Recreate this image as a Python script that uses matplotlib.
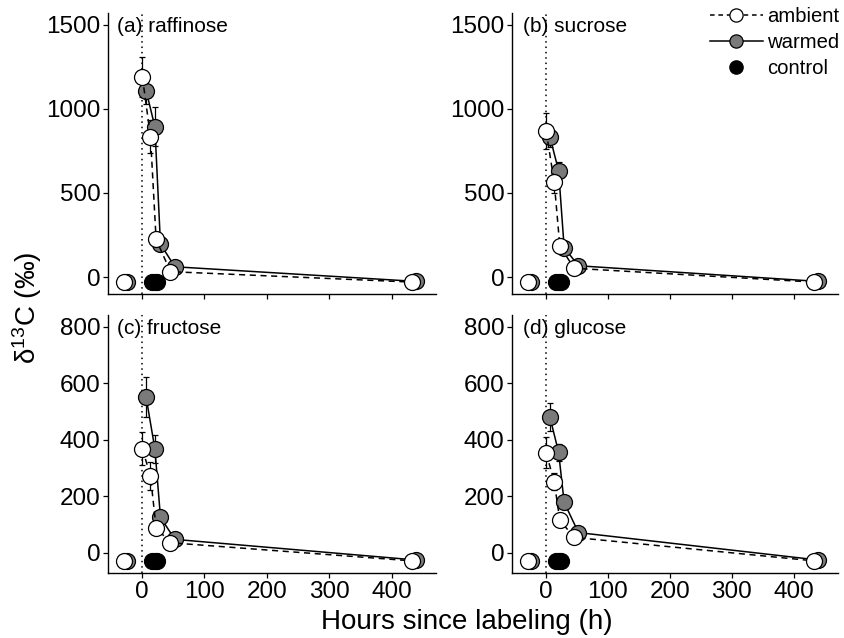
import matplotlib
matplotlib.use("Agg")
import matplotlib.pyplot as plt
from matplotlib.lines import Line2D

plt.rcParams['font.family'] = ['Liberation Sans', 'DejaVu Sans']
plt.rcParams['mathtext.fontset'] = 'custom'
plt.rcParams['mathtext.rm'] = 'Liberation Sans'
plt.rcParams['mathtext.default'] = 'regular'

# ---------------- data ----------------
panels = ["(a) raffinose", "(b) sucrose", "(c) fructose", "(d) glucose"]

amb_time = [1, 14, 23, 46, 432]
warm_time = [7, 21, 30, 53, 439]
pre_amb_time = -28
pre_warm_time = -23
control_time = [17, 21, 25]

amb_vals = {
    "(a) raffinose": [1192, 835, 224, 32, -30],
    "(b) sucrose":   [869, 564, 185, 52, -30],
    "(c) fructose":  [369, 272, 89, 36, -28],
    "(d) glucose":   [354, 252, 116, 55, -28],
}
warm_vals = {
    "(a) raffinose": [1109, 895, 196, 61, -26],
    "(b) sucrose":   [835, 633, 175, 67, -26],
    "(c) fructose":  [551, 369, 126, 48, -25],
    "(d) glucose":   [481, 357, 179, 72, -25],
}
amb_se = {
    "(a) raffinose": [119, 98, 30, 15, 5],
    "(b) sucrose":   [105, 64, 30, 10, 5],
    "(c) fructose":  [58, 50, 20, 8, 3],
    "(d) glucose":   [55, 30, 25, 8, 3],
}
warm_se = {
    "(a) raffinose": [80, 118, 20, 10, 5],
    "(b) sucrose":   [60, 53, 20, 10, 5],
    "(c) fructose":  [70, 50, 20, 8, 3],
    "(d) glucose":   [50, 30, 20, 8, 3],
}
pre_amb = {"(a) raffinose": -28, "(b) sucrose": -28, "(c) fructose": -28, "(d) glucose": -28}
pre_warm = {"(a) raffinose": -28, "(b) sucrose": -28, "(c) fructose": -28, "(d) glucose": -28}
control_vals = {
    "(a) raffinose": [-28, -28, -28],
    "(b) sucrose":   [-28, -28, -28],
    "(c) fructose":  [-28, -28, -28],
    "(d) glucose":   [-28, -28, -28],
}

x_ticks = [0, 100, 200, 300, 400]
y_ticks_top = [0, 500, 1000, 1500]
y_ticks_bottom = [0, 200, 400, 600, 800]

# ---------------- layout ----------------
W, H = 844, 638
fig = plt.figure(figsize=(W / 100, H / 100), dpi=100)
pos = {
    "(a) raffinose": [108 / W, 1 - 294 / H, 328 / W, 281 / H],
    "(b) sucrose":   [512 / W, 1 - 294 / H, 326 / W, 281 / H],
    "(c) fructose":  [108 / W, 1 - 573 / H, 328 / W, 258 / H],
    "(d) glucose":   [512 / W, 1 - 573 / H, 326 / W, 258 / H],
}

GREY = '#7a7a7a'
MS = 11.5
TICKFS = 17.5

for i, name in enumerate(panels):
    ax = fig.add_axes(pos[name])
    top = i < 2
    ax.axvline(0, color='black', ls=(0, (1, 2.5)), lw=1.1, zorder=1)

    # warmed
    ax.errorbar(warm_time, warm_vals[name], yerr=warm_se[name], fmt='none',
                ecolor='black', elinewidth=0.9, capsize=2.5, capthick=0.9, zorder=2)
    ax.plot(warm_time, warm_vals[name], color='black', lw=1.1, ls='-', zorder=3)
    ax.plot(warm_time, warm_vals[name], ls='none', marker='o', ms=MS,
            mfc=GREY, mec='black', mew=0.9, zorder=4)
    ax.plot([pre_warm_time], [pre_warm[name]], ls='none', marker='o', ms=MS,
            mfc=GREY, mec='black', mew=0.9, zorder=4)

    # ambient
    ax.errorbar(amb_time, amb_vals[name], yerr=amb_se[name], fmt='none',
                ecolor='black', elinewidth=0.9, capsize=2.5, capthick=0.9, zorder=2)
    ax.plot(amb_time, amb_vals[name], color='black', lw=1.1, ls=(0, (4, 3)), zorder=5)
    ax.plot(amb_time, amb_vals[name], ls='none', marker='o', ms=MS,
            mfc='white', mec='black', mew=0.9, zorder=6)
    ax.plot([pre_amb_time], [pre_amb[name]], ls='none', marker='o', ms=MS,
            mfc='white', mec='black', mew=0.9, zorder=6)

    # control
    ax.plot(control_time, control_vals[name], ls='none', marker='o', ms=MS,
            mfc='black', mec='black', mew=0.9, zorder=6)

    ax.set_xlim(-54, 471)
    ax.set_xticks(x_ticks)
    if top:
        ax.set_ylim(-101, 1571)
        ax.set_yticks(y_ticks_top)
        ax.set_xticklabels([])
    else:
        ax.set_ylim(-71, 842)
        ax.set_yticks(y_ticks_bottom)
    for s in ['top', 'right']:
        ax.spines[s].set_visible(False)
    for s in ['left', 'bottom']:
        ax.spines[s].set_linewidth(1.0)
    ax.tick_params(direction='out', length=3.5, width=0.9, labelsize=TICKFS,
                   pad=2, colors='black')
    yfrac = 1 - 13 / (281 if top else 258)
    ax.text(0.028 if i % 2 == 0 else 0.034, yfrac, name, transform=ax.transAxes,
            fontsize=15, ha='left', va='center')

fig.text(27 / W, 1 - 308 / H, 'δ$^{13}$C (‰)', rotation=90, ha='center',
         va='center', fontsize=20)
fig.text(467 / W, 1 - 622 / H, 'Hours since labeling (h)', ha='center',
         va='center', fontsize=20)

handles = [
    Line2D([], [], color='black', lw=1.1, ls=(0, (3, 2.5)), marker='o', ms=9.5,
           mfc='white', mec='black', mew=0.9),
    Line2D([], [], color='black', lw=1.1, ls='-', marker='o', ms=9.5,
           mfc=GREY, mec='black', mew=0.9),
    Line2D([], [], ls='none', marker='o', ms=9.5, mfc='black', mec='black'),
]
fig.legend(handles, ['ambient', 'warmed', 'control'], loc='upper left',
           bbox_to_anchor=(710 / W, 1 - 7 / H), frameon=False, fontsize=14.6,
           handlelength=2.6, handletextpad=0.22, labelspacing=0.34, borderpad=0,
           borderaxespad=0)

fig.savefig('out.png', dpi=100)
